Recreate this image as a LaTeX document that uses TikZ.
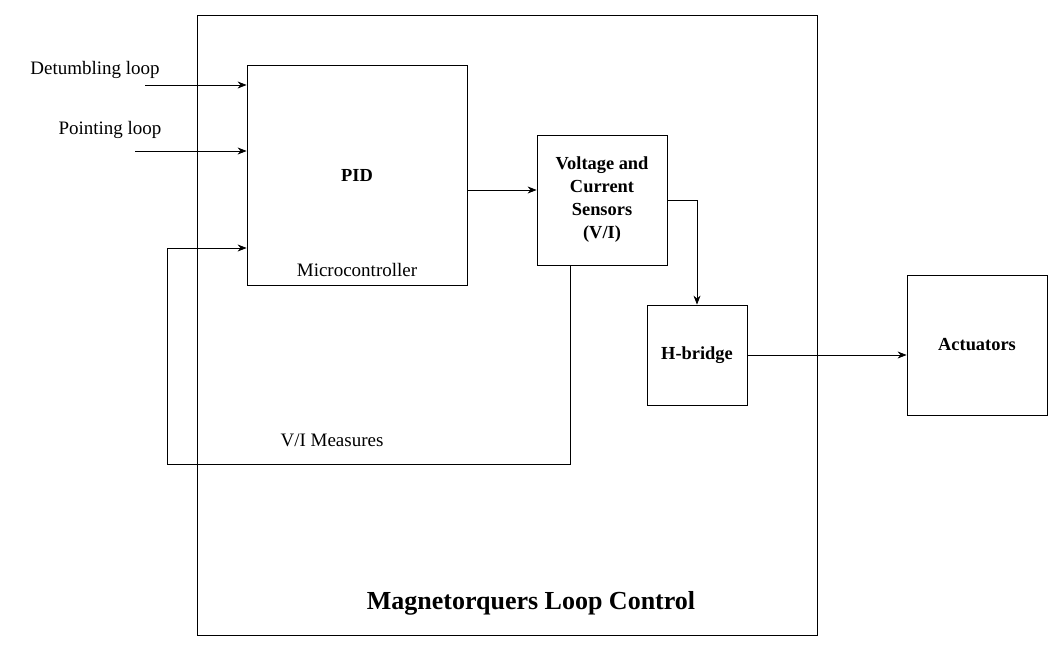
\documentclass[tikz,border=0pt]{standalone}
\usepackage{fontspec}
\setmainfont{Liberation Serif}
\usetikzlibrary{arrows.meta}
\begin{document}
\begin{tikzpicture}[>={Stealth[length=4.5pt,width=3.5pt]},x=0.5pt,y=-0.5pt,
	blk/.style={draw,inner sep=0pt,align=center,font=\fontsize{9.2}{11.5}\selectfont\bfseries},
	lbl/.style={inner sep=0pt,font=\fontsize{9.5}{11}\selectfont}]
	\useasboundingbox (0,0) rectangle (1063,651);
	% boxes
	\node[draw,minimum width=310pt,minimum height=310pt] (mlc) at (507,325) {};
	\node[draw,minimum width=110pt,minimum height=110pt] (pid) at (357,175) {};
	\node[inner sep=0pt,font=\fontsize{9.2}{11.5}\selectfont\bfseries] (pidtxt) at (357,175) {PID};
	\node[lbl] (mcu) at (357,270) {Microcontroller};
	\node[blk,minimum width=65pt,minimum height=65pt] (vis) at (602,200) {Voltage and\\Current\\Sensors\\(V/I)};
	\node[blk,minimum width=50pt,minimum height=50pt] (hb) at (697,355) {H-bridge};
	\node[blk,minimum width=70pt,minimum height=70pt] (act) at (977,345) {Actuators};
	\node[inner sep=0pt,font=\fontsize{13}{15}\selectfont\bfseries] (title) at (531,603) {Magnetorquers Loop Control};
	% inputs
	\node[lbl] (det) at (95,70) {Detumbling loop};
	\node[lbl] (pnt) at (110,130) {Pointing loop};
	\node[lbl] (vim) at (332,440) {V/I Measures};
	\coordinate (detin) at (145,85);
	\coordinate (pntin) at (135,151);
	% connectors
	\draw[->] (detin) -- (detin -| pid.west);
	\draw[->] (pntin) -- (pntin -| pid.west);
	\draw[->] (pid.east |- 0,190) -- (vis.west |- 0,190);
	\draw[->] (vis.east |- 0,200) -| (hb.north);
	\draw[->] (hb.east) -- (act.west |- hb.east);
	\draw[->] (vis.south -| 570,0) -- (570,464) -- (167,464) -- (167,248) -- (pid.west |- 0,248);
\end{tikzpicture}
\end{document}
